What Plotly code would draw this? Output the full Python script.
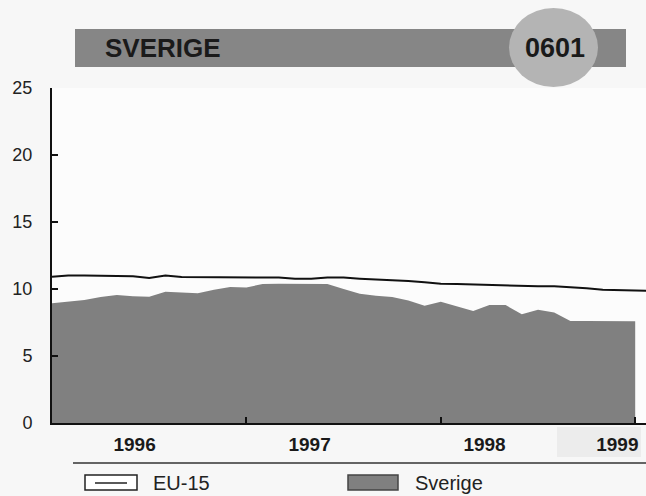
import plotly.graph_objects as go

# monthly series, Jan 1996 onwards
months = ['1996-%02d' % m for m in range(1, 13)] + \
         ['1997-%02d' % m for m in range(1, 13)] + \
         ['1998-%02d' % m for m in range(1, 13)] + \
         ['1999-01', '1999-02']

sverige = [8.93, 9.05, 9.18, 9.40, 9.55, 9.45, 9.42, 9.80, 9.75, 9.68, 9.95, 10.15,
           10.12, 10.37, 10.40, 10.40, 10.40, 10.37, 10.00, 9.65, 9.50, 9.40, 9.15, 8.75,
           9.05, 8.70, 8.36, 8.80, 8.80, 8.11, 8.45, 8.25, 7.61, 7.62, 7.61, 7.60,
           7.60]

eu15 = [10.92, 11.00, 11.00, 10.98, 10.95, 10.95, 10.82, 11.00, 10.90, 10.90, 10.90, 10.90,
        10.90, 10.88, 10.85, 10.77, 10.77, 10.85, 10.85, 10.77, 10.72, 10.67, 10.60, 10.50,
        10.40, 10.37, 10.33, 10.30, 10.25, 10.20, 10.20, 10.20, 10.15, 10.05, 9.95, 9.90,
        9.88, 9.85]

year_labels = ['1996', '1997', '1998', '1999']
year_pos = [5.1, 15.9, 26.7, 34.9]
y_ticks = [0, 5, 10, 15, 20, 25]

FONT = 'Liberation Sans, Arial, sans-serif'
W, H = 646, 496
L, R, T, B = 52, 646, 88, 423   # plot area in pixels


def px(x):
    return (x - L) / (R - L)


def py(y):
    return (B - y) / (B - T)


idx_sv = list(range(len(sverige)))
idx_eu = list(range(len(eu15)))

fig = go.Figure()
fig.add_trace(go.Scatter(x=idx_sv, y=sverige, name='Sverige', mode='lines',
                         line=dict(width=0, color='#808080'),
                         fill='tozeroy', fillcolor='#808080',
                         text=months[:len(sverige)]))
fig.add_trace(go.Scatter(x=idx_eu, y=eu15, name='EU-15', mode='lines',
                         line=dict(width=2, color='#111111'),
                         text=months[:len(eu15)]))

shapes = [
    # header bar and badge
    dict(type='rect', xref='paper', yref='paper', x0=px(75), x1=px(626), y0=py(67), y1=py(29),
         fillcolor='#868686', line=dict(width=0), layer='above'),
    dict(type='circle', xref='paper', yref='paper', x0=px(509), x1=px(598), y0=py(87), y1=py(8),
         fillcolor='#b4b4b4', line=dict(width=0), layer='above'),
    # light band behind 1999
    dict(type='rect', xref='paper', yref='paper', x0=px(557), x1=px(641), y0=py(457), y1=py(427),
         fillcolor='#ececec', line=dict(width=0), layer='below'),
    # separator above legend
    dict(type='line', xref='paper', yref='paper', x0=px(73), x1=px(646), y0=py(463), y1=py(463),
         line=dict(color='#333333', width=1.5)),
    # legend keys
    dict(type='rect', xref='paper', yref='paper', x0=px(85), x1=px(137), y0=py(490), y1=py(475),
         fillcolor='white', line=dict(color='#222222', width=1.5)),
    dict(type='line', xref='paper', yref='paper', x0=px(95), x1=px(127), y0=py(483), y1=py(483),
         line=dict(color='#222222', width=1.5)),
    dict(type='rect', xref='paper', yref='paper', x0=px(348), x1=px(398), y0=py(490), y1=py(475),
         fillcolor='#808080', line=dict(color='#444444', width=1.5)),
]

annotations = [
    dict(text='<b>SVERIGE</b>', xref='paper', yref='paper', x=px(103), y=py(48),
         xanchor='left', yanchor='middle', showarrow=False,
         font=dict(family=FONT, size=26, color='#1a1a1a')),
    dict(text='<b>0601</b>', xref='paper', yref='paper', x=px(555), y=py(48),
         xanchor='center', yanchor='middle', showarrow=False,
         font=dict(family=FONT, size=27, color='#1a1a1a')),
    dict(text='EU-15', xref='paper', yref='paper', x=px(151), y=py(483),
         xanchor='left', yanchor='middle', showarrow=False,
         font=dict(family=FONT, size=20, color='#222222')),
    dict(text='Sverige', xref='paper', yref='paper', x=px(413), y=py(483),
         xanchor='left', yanchor='middle', showarrow=False,
         font=dict(family=FONT, size=20, color='#222222')),
]

fig.update_layout(
    width=W, height=H,
    margin=dict(l=L, r=W - R, t=T, b=H - B, pad=0),
    paper_bgcolor='#f7f7f7',
    plot_bgcolor='#fcfcfc',
    showlegend=False,
    shapes=shapes,
    annotations=annotations,
    font=dict(family=FONT, color='#222222'),
    xaxis=dict(range=[0, (R - L) / 16.2], showgrid=False, zeroline=False,
               showline=True, linecolor='#111111', linewidth=2,
               tickmode='array', tickvals=year_pos, ticktext=['<b>%s</b>' % t for t in year_labels],
               ticks='', ticklabelstandoff=3,
               tickfont=dict(family=FONT, size=19, color='#1a1a1a'),
               minor=dict(tickmode='array', tickvals=[12, 24, 36], ticks='inside',
                          ticklen=6, tickwidth=2, tickcolor='#111111')),
    yaxis=dict(range=[0, 25], showgrid=False, zeroline=False,
               showline=True, linecolor='#111111', linewidth=2,
               tickmode='array', tickvals=y_ticks, ticks='inside', ticklen=6,
               tickwidth=2, tickcolor='#111111', ticklabelstandoff=14,
               tickfont=dict(family=FONT, size=18, color='#222222')),
)

# the page's default body margin would shift the figure by 8px
fig.write_html("out.html", config={'displayModeBar': False},
               post_script="document.body.style.margin='0';document.body.style.overflow='hidden';")
